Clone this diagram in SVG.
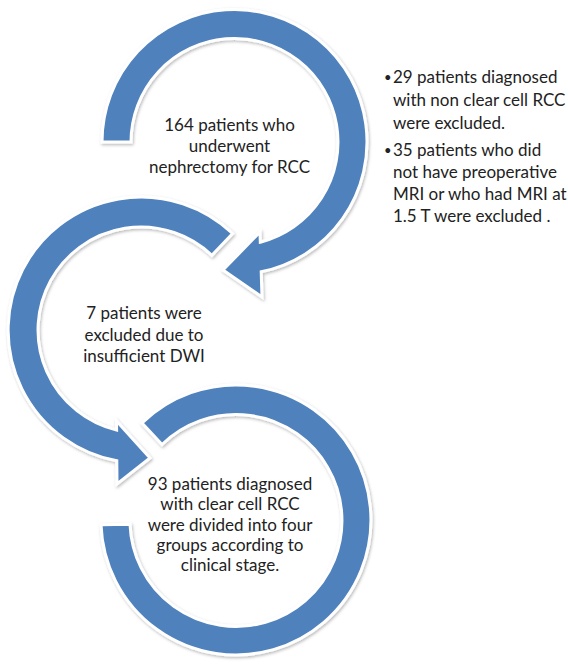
<svg xmlns="http://www.w3.org/2000/svg" width="568" height="669" viewBox="0 0 568 669">
<style>
.ring{fill:#4F81BD;stroke:#ffffff;stroke-width:3;stroke-linejoin:miter;filter:url(#sh)}
.t{font-family:Lato,"Liberation Sans",sans-serif;font-size:17px;fill:#222222}
.b{font-family:Lato,"Liberation Sans",sans-serif;font-size:13px;fill:#222222}
.c{text-anchor:middle}
</style>
<defs>
<filter id="sh" x="-10%" y="-10%" width="120%" height="120%">
<feDropShadow dx="1" dy="1.5" stdDeviation="1.5" flood-color="#000000" flood-opacity="0.28"/>
</filter>
</defs>
<rect width="568" height="669" fill="#ffffff"/>
<g id="connectors">
<path id="arrow1" class="ring" d="M102,142 A132.5,132.5 0 1 1 261.2,271.8 L262,297 L223,270 L260,232 L260.3,242.2 A103.5,103.5 0 1 0 131,142 Z"/>
<path id="arrow2" class="ring" d="M232.6,233.5 A133,133 0 1 0 116.8,460.8 L117,484 L150,458 L116.5,421 L116.6,430.1 A103,103 0 1 1 211.9,255.3 Z"/>
<path id="arc3" class="ring" d="M142,423 A135,135 0 1 1 101.02,524.86 L130.02,524.35 A106,106 0 1 0 162,444.5 Z"/>
</g>
<g id="node1">
<text class="t c" x="229.5" y="131">164 patients who</text>
<text class="t c" x="229.5" y="152">underwent</text>
<text class="t c" x="229.5" y="173">nephrectomy for RCC</text>
</g>
<g id="node2">
<text class="t c" x="144" y="319">7 patients were</text>
<text class="t c" x="144" y="341">excluded due to</text>
<text class="t c" x="144" y="362">insufficient DWI</text>
</g>
<g id="node3">
<text class="t c" x="230" y="490">93 patients diagnosed</text>
<text class="t c" x="230" y="510">with clear cell RCC</text>
<text class="t c" x="230" y="531">were divided into four</text>
<text class="t c" x="230" y="551">groups according to</text>
<text class="t c" x="230" y="571">clinical stage.</text>
</g>
<g id="notes">
<text class="b" x="384" y="82">•</text>
<text class="t" x="393" y="83">29 patients diagnosed</text>
<text class="t" x="393" y="106">with non clear cell RCC</text>
<text class="t" x="393" y="128.5">were excluded.</text>
<text class="b" x="384" y="155">•</text>
<text class="t" x="393" y="156">35 patients who did</text>
<text class="t" x="393" y="178">not have preoperative</text>
<text class="t" x="393" y="200">MRI or who had MRI at</text>
<text class="t" x="393" y="222">1.5 T were excluded .</text>
</g>
</svg>
